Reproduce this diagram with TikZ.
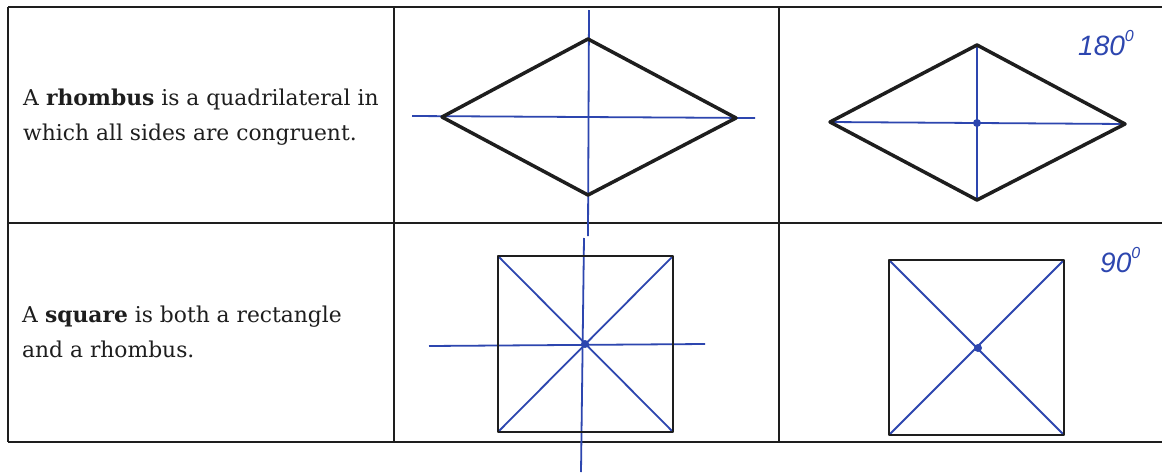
\documentclass[tikz,border=0pt]{standalone}
\usepackage{fontspec}
\setmainfont{DejaVu Serif}
\newfontfamily\handfont{Liberation Sans}
\definecolor{penblue}{RGB}{45,70,175}
\definecolor{ink}{RGB}{30,30,30}
\begin{document}
\begin{tikzpicture}[x=1pt,y=-1pt,
  gridline/.style={line width=1.8pt, draw=ink},
  figline/.style={line width=3.5pt, draw=ink, line join=round, line cap=round},
  sqline/.style={line width=2.7pt, draw=ink, line join=round, line cap=round},
  axisline/.style={line width=1.8pt, draw=penblue},
  bodytext/.style={anchor=base west, inner sep=0pt, font=\fontsize{21.8}{24}\selectfont, text=ink},
  handtext/.style={anchor=base west, inner sep=0pt, font=\handfont\itshape\fontsize{28}{28}\selectfont, text=penblue},
  centerdot/.style={fill=penblue, draw=none}]
\useasboundingbox (0,0) rectangle (1162,472);
\fill[white] (0,0) rectangle (1162,472);

% table grid
\coordinate (tl) at (8,7);
\coordinate (tr) at (1162,7);
\coordinate (ml) at (8,223);
\coordinate (mr) at (1162,223);
\coordinate (bl) at (8,442);
\coordinate (br) at (1162,442);
\coordinate (v1t) at (394,7);
\coordinate (v1b) at (394,442);
\coordinate (v2t) at (779,7);
\coordinate (v2b) at (779,442);
\draw[gridline] (tl) -- (tr);
\draw[gridline] (ml) -- (mr);
\draw[gridline] (bl) -- (br);
\draw[gridline] (tl) -- (bl);
\draw[gridline] (v1t) -- (v1b);
\draw[gridline] (v2t) -- (v2b);

% texts
\node[bodytext] (t1a) at (23,105) {A \textbf{rhombus} is a quadrilateral in};
\node[bodytext] (t1b) at (23,140) {which all sides are congruent.};
\node[bodytext] (t2a) at (22,322) {A \textbf{square} is both a rectangle};
\node[bodytext] (t2b) at (22,357) {and a rhombus.};

% rhombus 1 with symmetry lines
\coordinate (r1t) at (588,39);
\coordinate (r1l) at (442,117);
\coordinate (r1r) at (736,118);
\coordinate (r1b) at (588,195);
\coordinate (r1vt) at (589,10);
\coordinate (r1vb) at (588,236);
\coordinate (r1hl) at (412,116);
\coordinate (r1hr) at (755,118);
\draw[axisline] (r1vt) -- (r1vb);
\draw[axisline] (r1hl) -- (r1hr);
\draw[figline] (r1t) -- (r1r) -- (r1b) -- (r1l) -- cycle;

% rhombus 2 with diagonals
\coordinate (r2t) at (977,45);
\coordinate (r2l) at (830,122);
\coordinate (r2r) at (1125,124);
\coordinate (r2b) at (977,200);
\coordinate (r2c) at (977,123);
\draw[axisline] (r2t) -- (r2b);
\draw[axisline] (r2l) -- (r2r);
\draw[figline] (r2t) -- (r2r) -- (r2b) -- (r2l) -- cycle;
\fill[centerdot] (r2c) circle (4);
\node[handtext] (deg1) at (1078,55) {180\raisebox{0.5em}{\fontsize{16}{16}\selectfont 0}};

% square 1 with symmetry lines
\coordinate (s1a) at (498,256);
\coordinate (s1b) at (673,256);
\coordinate (s1c) at (673,432);
\coordinate (s1d) at (498,432);
\coordinate (s1o) at (585,344);
\coordinate (s1vt) at (584,238);
\coordinate (s1vb) at (581,472);
\coordinate (s1hl) at (429,346);
\coordinate (s1hr) at (705,344);
\draw[axisline] (s1a) -- (s1c);
\draw[axisline] (s1b) -- (s1d);
\draw[axisline] (s1vt) -- (s1vb);
\draw[axisline] (s1hl) -- (s1hr);
\draw[sqline] (s1a) -- (s1b) -- (s1c) -- (s1d) -- cycle;
\fill[centerdot] (s1o) circle (4);

% square 2 with diagonals
\coordinate (s2a) at (889,260);
\coordinate (s2b) at (1064,260);
\coordinate (s2c) at (1064,435);
\coordinate (s2d) at (889,435);
\coordinate (s2o) at (978,348);
\draw[axisline] (s2a) -- (s2c);
\draw[axisline] (s2b) -- (s2d);
\draw[sqline] (s2a) -- (s2b) -- (s2c) -- (s2d) -- cycle;
\fill[centerdot] (s2o) circle (4);
\node[handtext] (deg2) at (1100,272) {90\raisebox{0.5em}{\fontsize{16}{16}\selectfont 0}};
\end{tikzpicture}
\end{document}
